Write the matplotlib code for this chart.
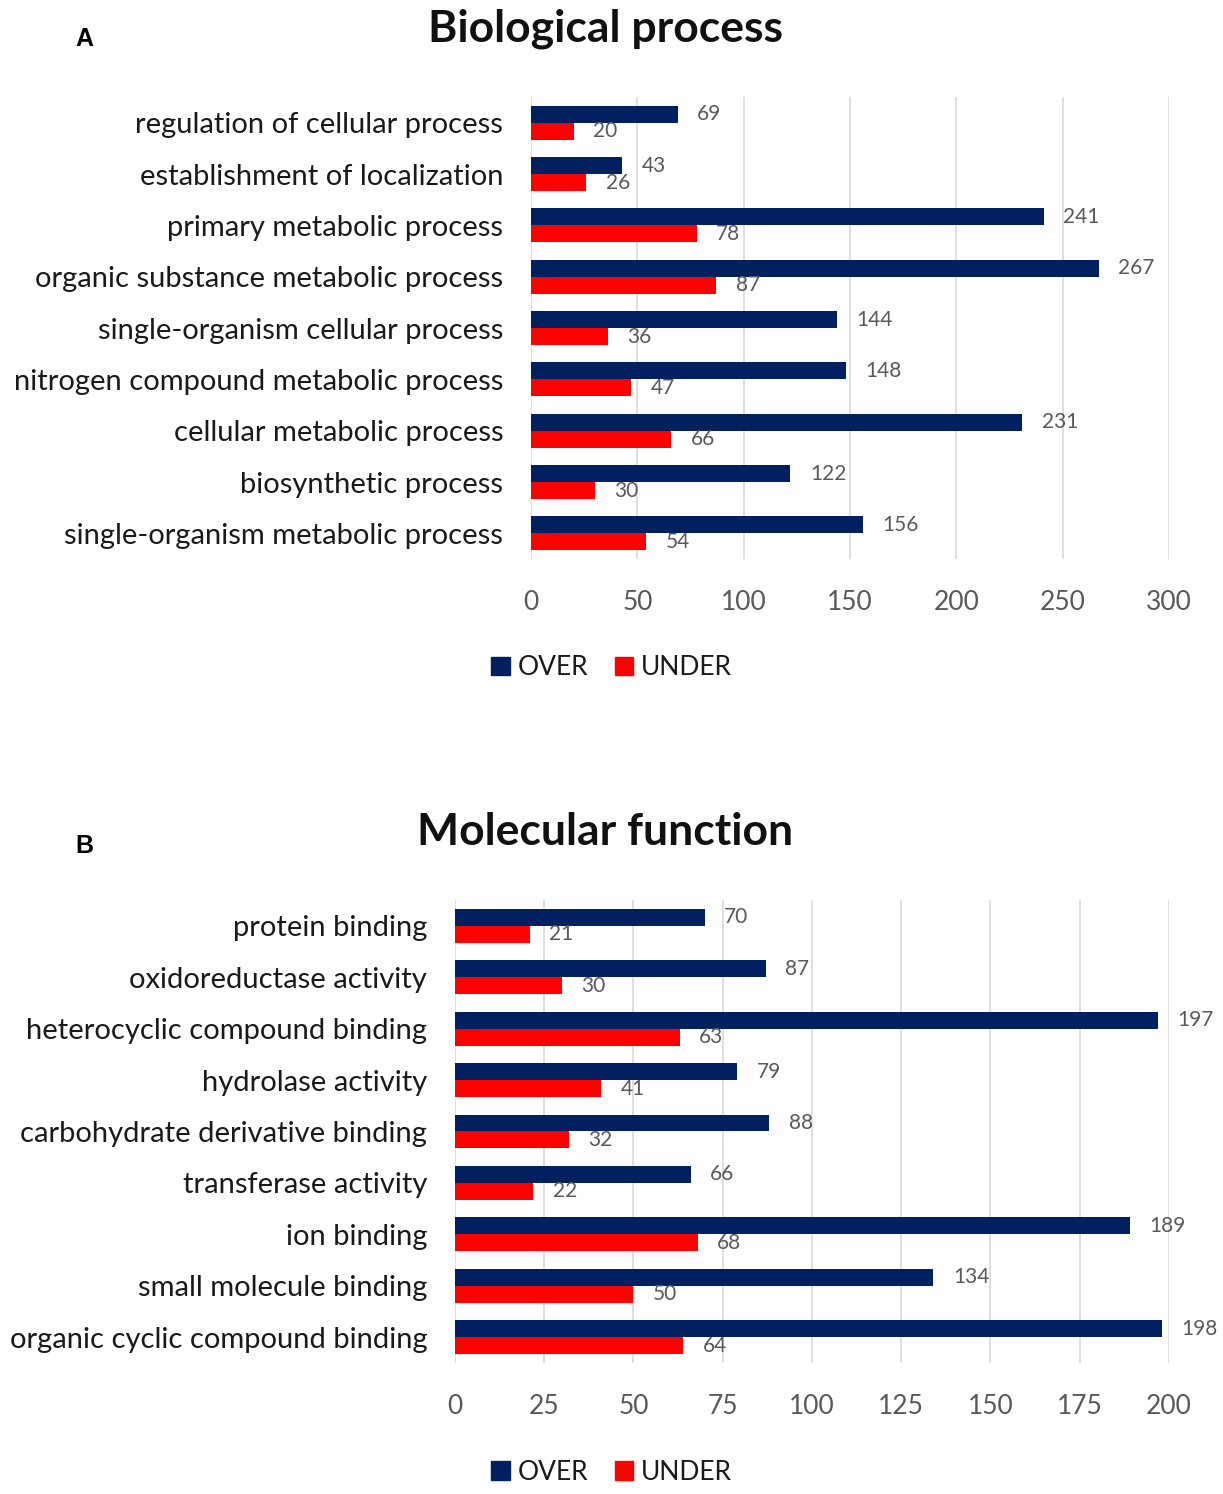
import matplotlib
matplotlib.use("Agg")
import matplotlib.pyplot as plt
import numpy as np
from matplotlib.patches import Patch

plt.rcParams['font.family'] = ['Lato', 'DejaVu Sans']

bp_terms = ["regulation of cellular process", "establishment of localization",
            "primary metabolic process", "organic substance metabolic process",
            "single-organism cellular process", "nitrogen compound metabolic process",
            "cellular metabolic process", "biosynthetic process",
            "single-organism metabolic process"]
bp_over = [69, 43, 241, 267, 144, 148, 231, 122, 156]
bp_under = [20, 26, 78, 87, 36, 47, 66, 30, 54]

mf_terms = ["protein binding", "oxidoreductase activity", "heterocyclic compound binding",
            "hydrolase activity", "carbohydrate derivative binding", "transferase activity",
            "ion binding", "small molecule binding", "organic cyclic compound binding"]
mf_over = [70, 87, 197, 79, 88, 66, 189, 134, 198]
mf_under = [21, 30, 63, 41, 32, 22, 68, 50, 64]

NAVY = "#002060"
RED = "#ff0000"

fig = plt.figure(figsize=(12.23, 14.94), dpi=100)


def panel(rect, terms, over, under, xmax, step):
    ax = fig.add_axes(rect)
    y = np.arange(len(terms))
    h = 0.33
    ax.barh(y - h / 2, over, height=h, color=NAVY, zorder=3)
    ax.barh(y + h / 2, under, height=h, color=RED, zorder=3)
    for i in range(len(terms)):
        ax.annotate(str(over[i]), (over[i], y[i] - h / 2), xytext=(14, 0),
                    textcoords="offset points", va="center", ha="left",
                    fontsize=15, color="#595959", annotation_clip=False)
        ax.annotate(str(under[i]), (under[i], y[i] + h / 2), xytext=(14, 0),
                    textcoords="offset points", va="center", ha="left",
                    fontsize=15, color="#595959", annotation_clip=False)
    ax.set_yticks(y)
    ax.set_yticklabels(terms, fontsize=21, color="#1a1a1a")
    ax.set_ylim(len(terms) - 0.5, -0.5)
    ax.set_xlim(0, xmax)
    ax.set_xticks(np.arange(0, xmax + 1, step))
    ax.tick_params(axis="x", length=0, pad=22, labelsize=19, labelcolor="#595959")
    ax.tick_params(axis="y", length=0, pad=20)
    ax.grid(axis="x", color="#d9d9d9", linewidth=1.2, zorder=0)
    for s in ax.spines.values():
        s.set_visible(False)
    return ax


panel([0.4342, 0.6258, 0.5217, 0.3092], bp_terms, bp_over, bp_under, 300, 50)
panel([0.3720, 0.0877, 0.5838, 0.3099], mf_terms, mf_over, mf_under, 200, 25)

fig.text(0.495, 0.981, "Biological process", ha="center", va="center",
         fontsize=32, fontweight="bold", color="#111111")
fig.text(0.495, 0.443, "Molecular function", ha="center", va="center",
         fontsize=32, fontweight="bold", color="#111111")
fig.text(0.069, 0.974, "A", ha="center", va="center", fontsize=18,
         fontweight="bold", family="Liberation Sans")
fig.text(0.069, 0.434, "B", ha="center", va="center", fontsize=18,
         fontweight="bold", family="Liberation Sans")

handles = [Patch(color=NAVY, label="OVER"), Patch(color=RED, label="UNDER")]
for yy in (0.553, 0.0147):
    fig.legend(handles=handles, loc="center", bbox_to_anchor=(0.5, yy), ncol=2,
               frameon=False, fontsize=19, handlelength=0.7, handleheight=0.7,
               handletextpad=0.3, columnspacing=1.0, labelcolor="#1a1a1a")

fig.savefig("out.png", dpi=100)
